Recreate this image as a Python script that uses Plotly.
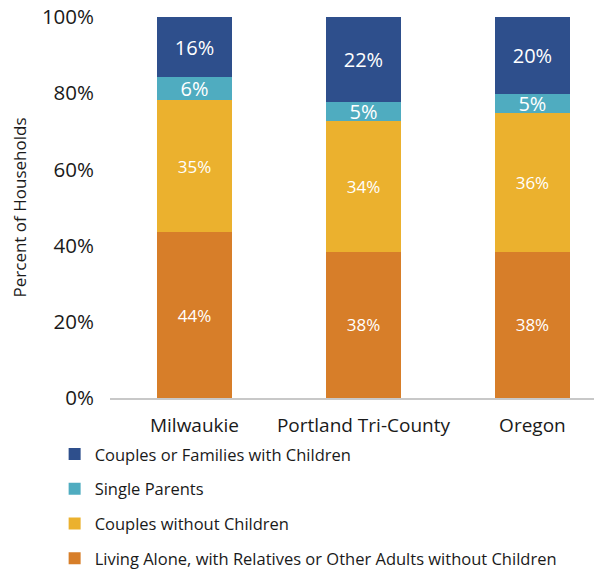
import plotly.graph_objects as go

categories = ["Milwaukie", "Portland Tri-County", "Oregon"]
series_names = [
    "Living Alone, with Relatives or Other Adults without Children",
    "Couples without Children",
    "Single Parents",
    "Couples or Families with Children",
]
living_alone = [44, 38, 38]
couples_no_children = [35, 34, 36]
single_parents = [6, 5, 5]
couples_families_children = [16, 22, 20]
y_ticks = [0, 20, 40, 60, 80, 100]

colors = ["#D77E29", "#EBB12E", "#4FACC0", "#2E4F8C"]
series_values = [living_alone, couples_no_children, single_parents, couples_families_children]
label_sizes = [17, 17, 20, 20]
legend_ranks = [4, 3, 2, 1]

FONT = "Open Sans"
fig = go.Figure()
for i, (name, vals, col) in enumerate(zip(series_names, series_values, colors)):
    fig.add_trace(go.Bar(
        x=categories, y=vals, name=name,
        marker=dict(color=col, line=dict(width=0)),
        text=[f"{v}%" for v in vals],
        textposition="inside", insidetextanchor="middle",
        constraintext="none",
        textfont=dict(color="white", size=label_sizes[i], family=FONT),
        width=0.445,
        legendgroup=str(i),
        legendrank=legend_ranks[i],
        hoverinfo="skip",
    ))

# page body has an 8px margin, so figure coordinates are screen - 8
fig.update_layout(
    barmode="stack", barnorm="percent",
    width=594, height=562,
    margin=dict(l=102, r=2, t=9, b=172, autoexpand=False),
    plot_bgcolor="white", paper_bgcolor="white",
    font=dict(family=FONT, color="#1a1a1a"),
    showlegend=True,
    legend=dict(
        traceorder="grouped", tracegroupgap=10.3,
        x=-0.113, xanchor="left", y=-0.102, yanchor="top",
        font=dict(size=16.5, family=FONT, color="#1a1a1a"),
        itemwidth=30,
    ),
    yaxis=dict(
        range=[0, 100], tickvals=y_ticks, ticktext=[f"{t}%" for t in y_ticks],
        showgrid=False, zeroline=False, showline=False, automargin=False,
        tickfont=dict(size=20.5, family=FONT, color="#1a1a1a"),
        ticks="", ticklen=0, ticklabelstandoff=15, ticklabeloverflow="allow",
        title=dict(text="Percent of Households", font=dict(size=17, family=FONT, color="#1a1a1a"), standoff=11),
    ),
    xaxis=dict(
        range=[-0.5, 2.4], showline=True, linecolor="#c8c8c8", linewidth=1.5,
        showgrid=False, zeroline=False, ticks="", automargin=False,
        ticklabelstandoff=9, ticklabeloverflow="allow",
        tickfont=dict(size=19, family=FONT, color="#1a1a1a"),
    ),
)

fig.write_html("out.html")
